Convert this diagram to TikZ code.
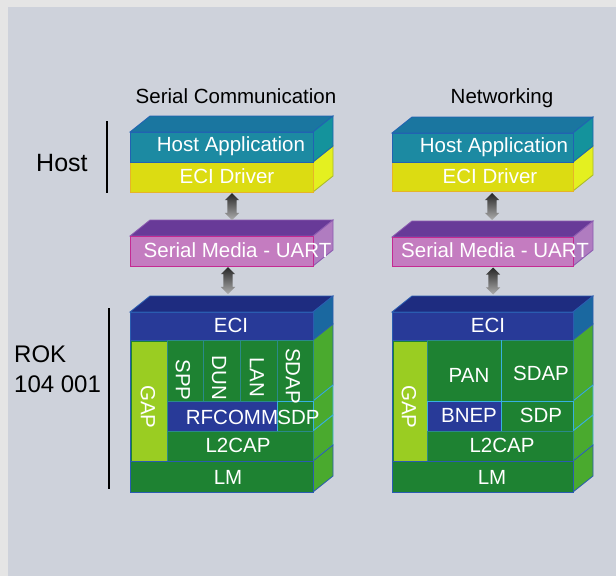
\documentclass[tikz,border=0pt]{standalone}
\usepackage{fontspec}
\setmainfont{Liberation Sans}
\usetikzlibrary{shapes.arrows,calc}

\definecolor{bgout}{HTML}{E5E5E5}
\definecolor{bgin}{HTML}{CED2DB}
\definecolor{hafront}{HTML}{1C8AA2}
\definecolor{hatop}{HTML}{1A76A0}
\definecolor{haside}{HTML}{14939C}
\definecolor{haborder}{HTML}{2262B2}
\definecolor{drvfront}{HTML}{DCDC12}
\definecolor{drvside}{HTML}{E4F020}
\definecolor{drvborder}{HTML}{A8B828}
\definecolor{drvedge}{HTML}{E6B428}
\definecolor{serfront}{HTML}{C47CC0}
\definecolor{sertop}{HTML}{683A98}
\definecolor{serside}{HTML}{B07CC0}
\definecolor{serborder}{HTML}{C42A92}
\definecolor{sertopborder}{HTML}{8A5AB0}
\definecolor{ecifront}{HTML}{283A98}
\definecolor{ecitop}{HTML}{1E2C80}
\definecolor{eciside}{HTML}{1A68A0}
\definecolor{rokborder}{HTML}{2A5CB0}
\definecolor{dkgreen}{HTML}{1E8232}
\definecolor{ltgreen}{HTML}{9ACD22}
\definecolor{sidegreen}{HTML}{4AAA2E}
\definecolor{cellline}{HTML}{2A8A8A}
\definecolor{cyanline}{HTML}{38B0E0}

\def\DX{20}
\def\DY{16}

\tikzset{
  lbl/.style={text=white, font=\fontsize{20.5}{24}\selectfont, inner sep=0pt, anchor=base},
  vlbl/.style={text=white, font=\fontsize{20.5}{24}\selectfont, inner sep=0pt, rotate=-90, anchor=center},
  cellbox/.style={anchor=north west, inner sep=0pt, outer sep=0pt, line width=0.8pt},
  face/.style={line width=0.8pt},
  dblarrow/.style={double arrow, shape border rotate=90, inner sep=4.5pt,
    minimum width=14pt, minimum height=27pt, double arrow head extend=2.5pt,
    double arrow head indent=0pt, top color=black!85, bottom color=black!32, draw=none},
  blacktext/.style={text=black, inner sep=0pt}
}

% name, x1, y1, x2, y2, fill, draw
\newcommand\cell[7]{\node[cellbox, fill=#6, draw=#7,
  minimum width={(#4-#2)*1pt}, minimum height={(#5-#3)*1pt}] (#1) at (#2,#3) {};}
% x1, x2, y, fill, draw
\newcommand\topface[5]{\filldraw[face,fill=#4,draw=#5] (#1,#3) -- ({#1+\DX},{#3-\DY}) -- ({#2+\DX},{#3-\DY}) -- (#2,#3) -- cycle;}
% x, ya, yb, fill, draw
\newcommand\sideface[5]{\filldraw[face,fill=#4,draw=#5] (#1,#2) -- ({#1+\DX},{#2-\DY}) -- ({#1+\DX},{#3-\DY}) -- (#1,#3) -- cycle;}

\begin{document}
\begin{tikzpicture}[x=1pt,y=-1pt]
\useasboundingbox (0,0) rectangle (616,576);
\fill[bgout] (0,0) rectangle (616,576);
\fill[bgin] (8,7) rectangle (616,576);

% titles and side labels
\node[blacktext, font=\fontsize{20.5}{24}\selectfont, anchor=base] (tSer) at (236,103) {Serial Communication};
\node[blacktext, font=\fontsize{20.5}{24}\selectfont, anchor=base] (tNet) at (502,103) {Networking};
\node[blacktext, font=\fontsize{25}{30}\selectfont, anchor=base west] (tHost) at (36,171) {Host};
\node[blacktext, font=\fontsize{24}{30}\selectfont, anchor=base west, align=left] (tRok) at (14,392) {ROK\\104 001};
\draw[line width=1.5pt] (107,121) -- (107,193);
\draw[line width=1.5pt] (109,308) -- (109,489);

% ================= left stack (Serial Communication) =================
\sideface{313}{162}{192}{drvside}{drvborder}
\cell{drvL}{130}{162}{313}{192}{drvfront}{drvedge}
\topface{130}{313}{132}{hatop}{haborder}
\sideface{313}{132}{162}{haside}{haborder}
\cell{haL}{130}{132}{313}{162}{hafront}{haborder}
\node[lbl] (thaL) at (231,151) {Host Application};
\node[lbl] (tdrvL) at (227,183) {ECI Driver};

\topface{130}{313}{236}{sertop}{sertopborder}
\sideface{313}{236}{266}{serside}{sertopborder}
\cell{serL}{130}{236}{313}{266}{serfront}{serborder}
\node[lbl] (tserL) at (237.5,257) {Serial Media - UART};

\node[dblarrow] (a1L) at (232,206.5) {};
\node[dblarrow] (a2L) at (228,280.5) {};

\topface{130}{313}{312}{ecitop}{rokborder}
\sideface{313}{312}{340}{eciside}{rokborder}
\sideface{313}{340}{401}{sidegreen}{rokborder}
\sideface{313}{401}{431}{sidegreen}{cyanline}
\sideface{313}{431}{461}{sidegreen}{cyanline}
\sideface{313}{461}{492}{sidegreen}{rokborder}
\cell{eciL}{130}{312}{313}{340}{ecifront}{rokborder}
\cell{baseL}{130}{340}{313}{461}{dkgreen}{rokborder}
\cell{gapL}{132}{342}{167}{460}{ltgreen}{ltgreen}
\cell{sppL}{167}{340}{203}{401}{dkgreen}{cellline}
\cell{dunL}{203}{340}{240}{401}{dkgreen}{cellline}
\cell{lanL}{240}{340}{277}{401}{dkgreen}{cellline}
\cell{sdapL}{277}{340}{313}{401}{dkgreen}{cellline}
\cell{rfcL}{167}{401}{277}{431}{ecifront}{cellline}
\cell{sdpL}{277}{401}{313}{431}{dkgreen}{cyanline}
\cell{l2cL}{167}{431}{313}{461}{dkgreen}{cellline}
\cell{lmL}{130}{461}{313}{492}{dkgreen}{rokborder}
\node[lbl] (teciL) at (231,332) {ECI};
\node[vlbl] (tgapL) at (148,407) {GAP};
\node[vlbl] (tsppL) at (183,380) {SPP};
\node[vlbl] (tdunL) at (219,378) {DUN};
\node[vlbl] (tlanL) at (257,377) {LAN};
\node[vlbl] (tsdapL) at (293,376) {SDAP};
\node[lbl] (trfcL) at (232,424) {RFCOMM};
\node[lbl] (tsdpL) at (298.5,424) {SDP};
\node[lbl] (tl2cL) at (238,452) {L2CAP};
\node[lbl] (tlmL) at (228,484) {LM};

% ================= right stack (Networking) =================
\sideface{573}{162}{191}{drvside}{drvborder}
\cell{drvR}{392}{162}{573}{191}{drvfront}{drvedge}
\topface{392}{573}{133}{hatop}{haborder}
\sideface{573}{133}{162}{haside}{haborder}
\cell{haR}{392}{133}{573}{162}{hafront}{haborder}
\node[lbl] (thaR) at (494,152) {Host Application};
\node[lbl] (tdrvR) at (490,183) {ECI Driver};

\topface{392}{573}{237}{sertop}{sertopborder}
\sideface{573}{237}{266}{serside}{sertopborder}
\cell{serR}{392}{237}{573}{266}{serfront}{serborder}
\node[lbl] (tserR) at (495,257) {Serial Media - UART};

\node[dblarrow] (a1R) at (492,206.5) {};
\node[dblarrow] (a2R) at (493,281) {};

\topface{392}{573}{312}{ecitop}{rokborder}
\sideface{573}{312}{340}{eciside}{rokborder}
\sideface{573}{340}{401}{sidegreen}{rokborder}
\sideface{573}{401}{431}{sidegreen}{cyanline}
\sideface{573}{431}{461}{sidegreen}{cyanline}
\sideface{573}{461}{492}{sidegreen}{rokborder}
\cell{eciR}{392}{312}{573}{340}{ecifront}{rokborder}
\cell{baseR}{392}{340}{573}{461}{dkgreen}{rokborder}
\cell{gapR}{394}{342}{427}{460}{ltgreen}{ltgreen}
\cell{panR}{427}{340}{501}{401}{dkgreen}{cellline}
\cell{sdapR}{501}{340}{573}{401}{dkgreen}{cellline}
\draw[cyanline, line width=0.8pt] (sdapR.north west) -- (sdapR.south west);
\cell{bnepR}{427}{401}{501}{431}{ecifront}{cyanline}
\cell{sdpR}{501}{401}{573}{431}{dkgreen}{cyanline}
\cell{l2cR}{427}{431}{573}{461}{dkgreen}{cellline}
\cell{lmR}{392}{461}{573}{492}{dkgreen}{rokborder}
\node[lbl] (teciR) at (488,332) {ECI};
\node[vlbl] (tgapR) at (409,407) {GAP};
\node[lbl] (tpanR) at (469,382) {PAN};
\node[lbl] (tsdapR) at (541,380) {SDAP};
\node[lbl] (tbnepR) at (469,422) {BNEP};
\node[lbl] (tsdpR) at (541,422) {SDP};
\node[lbl] (tl2cR) at (502,452) {L2CAP};
\node[lbl] (tlmR) at (492,484) {LM};
\end{tikzpicture}
\end{document}
